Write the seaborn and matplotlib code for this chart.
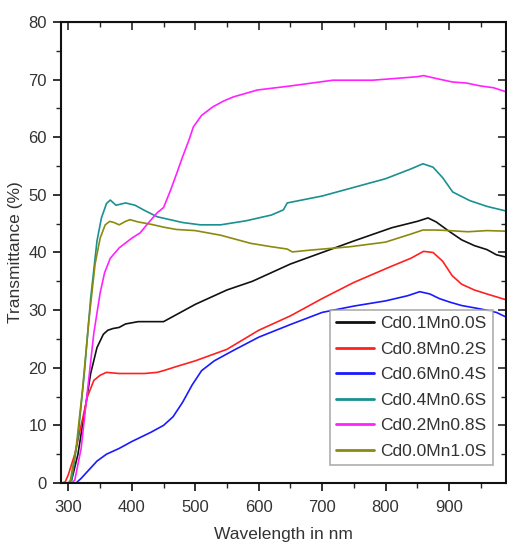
import matplotlib
matplotlib.use("Agg")
import matplotlib.pyplot as plt
import pandas as pd
import seaborn as sns
from matplotlib.ticker import MultipleLocator

# values
labels = ['Cd0.1Mn0.0S', 'Cd0.8Mn0.2S', 'Cd0.6Mn0.4S',
          'Cd0.4Mn0.6S', 'Cd0.2Mn0.8S', 'Cd0.0Mn1.0S']
colors = ['#111111', '#ff2020', '#1a1aff', '#1a9090', '#ff22ff', '#8a8a10']

wl_black = [300, 305, 315, 325, 335, 345, 355, 362, 370, 380, 390, 410, 430, 450, 470, 500, 550, 590, 650, 700, 750, 810, 850, 867, 880, 900, 920, 940, 960, 975, 990]
t_black = [0, 0.5, 5, 12, 19, 23.5, 25.8, 26.5, 26.8, 27, 27.6, 28, 28, 28, 29.2, 31, 33.5, 35, 38, 40, 42, 44.3, 45.4, 46, 45.3, 43.7, 42.2, 41.2, 40.5, 39.6, 39.2]

wl_red = [290, 295, 300, 310, 320, 330, 340, 350, 360, 380, 400, 420, 440, 450, 470, 500, 550, 600, 650, 700, 750, 807, 840, 860, 875, 890, 905, 920, 940, 960, 990]
t_red = [0, 0.2, 1.5, 5, 10, 15, 17.8, 18.7, 19.2, 19, 19, 19, 19.2, 19.5, 20.2, 21.2, 23.2, 26.5, 29, 32, 34.8, 37.5, 39, 40.2, 40, 38.5, 36, 34.5, 33.5, 32.8, 31.8]

wl_blue = [305, 312, 320, 330, 345, 360, 380, 400, 430, 450, 465, 480, 495, 510, 530, 560, 600, 650, 700, 750, 800, 835, 854, 870, 885, 901, 920, 950, 975, 990]
t_blue = [0, 0, 0.8, 2, 3.8, 5, 6, 7.2, 8.8, 10, 11.5, 14, 17, 19.5, 21.2, 23, 25.3, 27.5, 29.6, 30.7, 31.6, 32.5, 33.2, 32.8, 32, 31.4, 30.8, 30.2, 29.6, 28.8]

wl_teal = [300, 305, 315, 325, 335, 345, 352, 360, 366, 375, 390, 405, 420, 440, 460, 480, 508, 540, 580, 620, 639, 645, 700, 750, 800, 840, 859, 875, 890, 906, 933, 960, 990]
t_teal = [0, 0.5, 8, 19, 32, 42, 46, 48.5, 49.1, 48.2, 48.6, 48.2, 47.3, 46.2, 45.7, 45.2, 44.8, 44.8, 45.5, 46.5, 47.4, 48.6, 49.8, 51.3, 52.8, 54.5, 55.4, 54.8, 53, 50.5, 49, 48, 47.2]

wl_mag = [305, 310, 320, 330, 340, 350, 357, 366, 380, 400, 413, 425, 440, 450, 461, 470, 480, 490, 497, 510, 528, 545, 560, 598, 650, 717, 780, 850, 860, 880, 905, 928, 950, 970, 990]
t_mag = [0, 0.5, 6, 16, 26, 33, 36.5, 39, 40.8, 42.5, 43.4, 45, 46.9, 47.8, 50.8, 53.5, 56.6, 59.5, 61.8, 63.8, 65.3, 66.3, 67, 68.2, 68.9, 69.9, 69.9, 70.5, 70.7, 70.2, 69.6, 69.4, 68.9, 68.6, 67.9]

wl_olive = [300, 303, 312, 322, 332, 342, 350, 358, 365, 372, 380, 390, 397, 410, 430, 450, 470, 500, 540, 587, 620, 645, 653, 680, 744, 800, 840, 859, 880, 900, 930, 960, 990]
t_olive = [0, 0.5, 6, 16, 28, 38, 42.5, 44.8, 45.4, 45.2, 44.8, 45.4, 45.7, 45.3, 44.9, 44.4, 44, 43.8, 43, 41.6, 41, 40.6, 40.1, 40.4, 41, 41.8, 43.2, 43.9, 43.9, 43.8, 43.6, 43.8, 43.7]

series = [(wl_black, t_black), (wl_red, t_red), (wl_blue, t_blue),
          (wl_teal, t_teal), (wl_mag, t_mag), (wl_olive, t_olive)]

rows = []
for name, (wl, t) in zip(labels, series):
    for w, v in zip(wl, t):
        rows.append({'Wavelength': w, 'T': v, 'sample': name})
df = pd.DataFrame(rows)

sns.set_style('ticks')
plt.rcParams['font.family'] = ['Liberation Sans', 'DejaVu Sans']

fig = plt.figure(figsize=(5.07, 5.46), dpi=100)
ax = fig.add_axes([0.120, 0.1154, 0.878, 0.8443])

sns.lineplot(data=df, x='Wavelength', y='T', hue='sample', hue_order=labels,
             palette=dict(zip(labels, colors)), estimator=None, sort=False,
             linewidth=1.2, ax=ax)

ax.set_xlim(288, 990)
ax.set_ylim(0, 80)
ax.xaxis.set_major_locator(MultipleLocator(100))
ax.xaxis.set_minor_locator(MultipleLocator(50))
ax.yaxis.set_major_locator(MultipleLocator(10))
ax.yaxis.set_minor_locator(MultipleLocator(5))
ax.tick_params(which='major', direction='out', length=6, width=1.2, labelsize=12,
               colors='#111111', labelcolor='#333333')
ax.tick_params(which='minor', direction='out', length=3.5, width=1.0)
ax.tick_params(axis='x', pad=6)
ax.tick_params(axis='y', pad=4)

top = ax.secondary_xaxis('top')
top.xaxis.set_major_locator(MultipleLocator(100))
top.xaxis.set_minor_locator(MultipleLocator(50))
top.tick_params(which='major', direction='in', length=6, width=1.2)
top.tick_params(which='minor', direction='in', length=3.5, width=1.0)
top.set_xticklabels([])

right = ax.secondary_yaxis('right')
right.yaxis.set_major_locator(MultipleLocator(10))
right.yaxis.set_minor_locator(MultipleLocator(5))
right.tick_params(which='major', direction='in', length=6, width=1.2)
right.tick_params(which='minor', direction='in', length=3.5, width=1.0)
right.set_yticklabels([])

for s in ax.spines.values():
    s.set_linewidth(1.5)
    s.set_color('#111111')

ax.set_xlabel('Wavelength in nm', fontsize=12.5, labelpad=9, color='#333333')
ax.set_ylabel('Transmittance (%)', fontsize=12.5, labelpad=4, color='#333333')

leg = ax.legend(loc='lower right', fontsize=12.5, frameon=True, fancybox=False,
                edgecolor='#999999', handlelength=2.2, labelspacing=0.6,
                borderpad=0.35, handletextpad=0.35, bbox_to_anchor=(0.99, 0.02))
leg.get_frame().set_linewidth(1.2)
for text in leg.get_texts():
    text.set_color('#333333')
for line in leg.get_lines():
    line.set_linewidth(2.0)

fig.savefig('out.png', dpi=100)
